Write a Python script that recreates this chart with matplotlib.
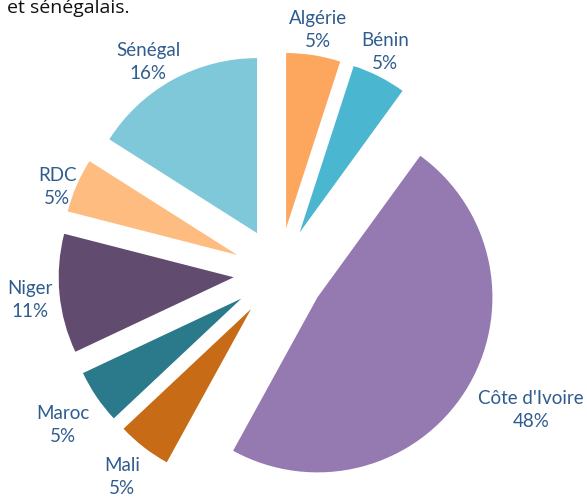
import matplotlib
matplotlib.use("Agg")
import matplotlib.pyplot as plt
import numpy as np

pays = ["Algérie", "Bénin", "Côte d'Ivoire", "Mali", "Maroc", "Niger", "RDC", "Sénégal"]
parts = [5, 5, 48, 5, 5, 11, 5, 16]
couleurs = ["#FDA65D", "#4BB6CF", "#9579B1", "#C76B16", "#2A7A8C", "#614C70", "#FEBC80", "#7FC8D9"]

W, H = 587, 499
cx, cy, R = 279, 273, 175  # pie centre and radius in pixels
explode = 0.26

# label centres, in pixels from the top-left corner
label_px = [(318, 30), (385, 52), (531, 410), (122, 477),
            (63, 425), (30, 300), (57, 187), (148, 62)]

fig = plt.figure(figsize=(W / 100, H / 100), dpi=100)
ax = fig.add_axes([0, 0, 1, 1])

ax.pie(parts, colors=couleurs, startangle=90, counterclock=False,
       explode=[explode] * len(parts), radius=1, center=(0, 0),
       wedgeprops=dict(linewidth=0))
ax.set_aspect("auto")
ax.set_xlim(-cx / R, (W - cx) / R)
ax.set_ylim(-(H - cy) / R, cy / R)
ax.axis("off")

for nom, p, (px, py) in zip(pays, parts, label_px):
    ax.text((px - cx) / R, (cy - py) / R, f"{nom}\n{p}%",
            ha="center", va="center", fontsize=13.5, color="#2F5C8F",
            family="Lato", linespacing=1.4)

# cut-off caption at the top
fig.text(7 / W, 1 - 13 / H, "et sénégalais.", ha="left", va="baseline",
         fontsize=14, color="#111111", family="Open Sans")

fig.savefig("out.png", dpi=100)
